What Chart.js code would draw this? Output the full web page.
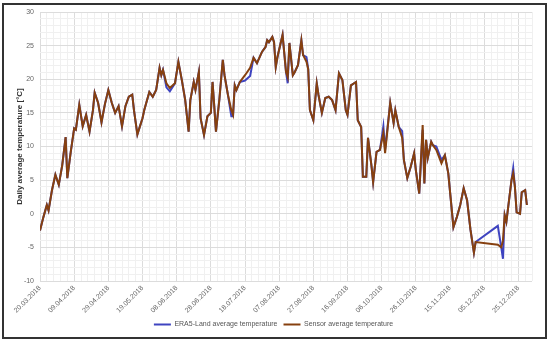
<!DOCTYPE html>
<html><head><meta charset="utf-8">
<script src="https://cdn.jsdelivr.net/npm/chart.js@4.4.0/dist/chart.umd.min.js"></script>
<style>
html,body{margin:0;padding:0;background:#fff;}
#wrap{position:relative;width:550px;height:342px;}
#frame{position:absolute;left:2px;top:3px;width:541px;height:332px;border:2px solid #333;pointer-events:none}
canvas{position:absolute;left:0;top:0}
</style></head>
<body><div id="wrap"><canvas id="c" width="550" height="342"></canvas><div id="frame"></div></div>
<script>
// x tick labels (every 20 days from 20.03.2018)
const tickLabels = ['20.03.2018','09.04.2018','29.04.2018','19.05.2018','08.06.2018','28.06.2018','18.07.2018','07.08.2018','27.08.2018','16.09.2018','06.10.2018','26.10.2018','15.11.2018','05.12.2018','25.12.2018'];
// day offset from 20.03.2018
const days = [0,2,4,5,7,9,11,13,15,16,18,20,21,23,25,27,29,31,32,34,36,38,40,42,44,46,48,50,52,54,55,57,60,61,64,66,68,70,71,72,74,76,79,81,83,85,87,88,90,91,93,94,96,98,100,101,102,103,105,107,108,110,112,113,114,115,117,120,123,125,127,130,132,133,134,136,137,138,139,142,144,145,146,148,149,151,153,154,156,157,158,160,162,163,165,167,169,171,173,175,177,179,180,182,185,186,188,189,191,192,194,195,197,199,201,202,205,207,208,210,212,213,215,217,219,220,222,224,225,226,227,229,230,232,235,237,239,242,244,246,248,250,252,254,255,268,270,271,272,273,276,277,278,279,281,282,284,285];
const sensor = [-2.5,-0.5,1.3,0.5,3.5,5.8,4.3,7.2,11.4,5.3,9.2,12.7,12.5,16.2,13,14.7,12.2,15.4,18,16.5,13.6,16.3,18.4,16.5,15,16,13,16,17.4,17.7,15.4,11.8,14.2,15.4,18.1,17.4,18.4,21.7,20.6,21.4,19.4,18.7,19.4,22.6,19.9,16.9,12.2,16.9,19.6,18.4,21.1,14.2,11.7,14.5,15,19.6,16,12.2,17,22.9,20.6,17.7,15.4,14.7,19.1,18.4,19.6,20.6,21.7,23.2,22.4,24.1,24.8,25.8,25.5,26.3,25.5,21.8,23.3,26.6,21.1,20.3,25.4,20.6,21,22.1,25.8,23.6,22.6,21.5,15.4,13.9,19.4,17.7,15,17.2,17.4,16.9,15.4,20.9,19.9,15.4,14.7,19.1,19.6,13.9,12.9,5.5,5.5,11.3,7.2,4.7,9.2,9.5,12,9,16.5,13.5,15.4,12.9,11.3,8,5.3,7,9,6.5,3,13.2,4.5,11,8.3,10.7,10.2,9.5,7.5,8.7,6,-2,-0.5,1.3,3.8,2,-2.4,-5.8,-4.2,-4.6,-5,-4,-0.2,-1.2,5,6,4,0.2,0,3.2,3.5,1.3];
const era5 = [-2.5,-0.5,1.3,0.5,3.5,5.8,4.3,7.2,11.4,5.3,9.2,12.7,12.5,16.2,13,14.7,12.2,15.4,18,16.5,13.6,16.3,18.4,16.5,15,16,13,16,17.4,17.7,15.4,11.8,14.2,15.4,18.1,17.4,18.4,21.7,20.6,21.4,18.8,18.2,19.4,22.6,19.9,16.9,12.2,16.9,19.6,18.4,21.1,14.2,11.7,14.5,15,19.6,16,12.2,17,22.9,20.6,17.7,14.5,14.5,19.1,18.4,19.6,19.8,20.5,23.2,22.4,24.1,24.8,25.8,25.5,26.3,25.5,21.8,23.3,26.6,21.1,19.4,25.4,20.6,21,22.1,25.8,23.6,23.3,21.5,15.4,13.9,19.4,17.7,15,17.2,17.4,16.9,15.4,20.9,19.9,15.4,14.7,19.1,19.6,13.9,12.9,5.5,5.5,11.3,7.2,4.7,9.2,9.5,13,9.5,16.5,13.5,15.4,12.9,12.3,8,5.3,7,9,6.5,3,12.5,4.5,11,8.3,10.7,10.2,10,8,8.7,6,-2,-0.5,1.3,3.8,2,-2.4,-5.8,-4.2,-1.8,-5,-6.7,-0.2,-1.2,5,6.8,4,0.2,0,3.2,3.5,1.3];

const toPts = (vals) => days.map((d, i) => ({x: d, y: vals[i]}));
const FONT = 'Liberation Sans, Arial, sans-serif';

new Chart(document.getElementById('c'), {
  type: 'line',
  data: {
    datasets: [
      {label: 'ERA5-Land average temperature', data: toPts(era5), borderColor: '#3f44c0', backgroundColor: '#3f44c0', borderWidth: 2, pointRadius: 0, tension: 0, order: 2},
      {label: 'Sensor average temperature', data: toPts(sensor), borderColor: '#86400f', backgroundColor: '#86400f', borderWidth: 2, pointRadius: 0, tension: 0, order: 1}
    ]
  },
  options: {
    responsive: false,
    animation: false,
    layout: {padding: {left: 15, right: 18, top: 12, bottom: 4}},
    plugins: {
      tooltip: {enabled: false},
      legend: {
        position: 'bottom',
        labels: {
          usePointStyle: true, pointStyle: 'line', pointStyleWidth: 17,
          font: {family: FONT, size: 7}, color: '#555', padding: 6,
          sort: (a, b) => a.datasetIndex - b.datasetIndex
        }
      }
    },
    scales: {
      x: {
        type: 'linear', min: 0, max: 288,
        afterFit: (s) => { s.height = 34; },
        grid: {drawTicks: false, color: (c) => (c.tick && c.tick.value % 20 === 0) ? '#dcdcdc' : '#f0f0f0'},
        border: {display: false},
        ticks: {
          stepSize: 4, autoSkip: false, minRotation: 45, maxRotation: 45, padding: 3,
          font: {family: FONT, size: 7}, color: '#666',
          callback: (v) => (v % 20 === 0 && v / 20 < tickLabels.length) ? tickLabels[v / 20] : ''
        }
      },
      y: {
        min: -10, max: 30,
        afterFit: (s) => { s.width = 25; },
        grid: {drawTicks: false, color: (c) => (c.tick && c.tick.value % 5 === 0) ? '#dcdcdc' : '#f0f0f0'},
        border: {display: false},
        title: {display: true, text: 'Daily average temperature [°C]', color: '#333', font: {family: FONT, size: 8, weight: 'bold'}, padding: 0},
        ticks: {
          stepSize: 1, autoSkip: false, padding: 6,
          font: {family: FONT, size: 7}, color: '#666',
          callback: (v) => v % 5 === 0 ? String(v) : ''
        }
      }
    }
  }
});
</script>
</body></html>
